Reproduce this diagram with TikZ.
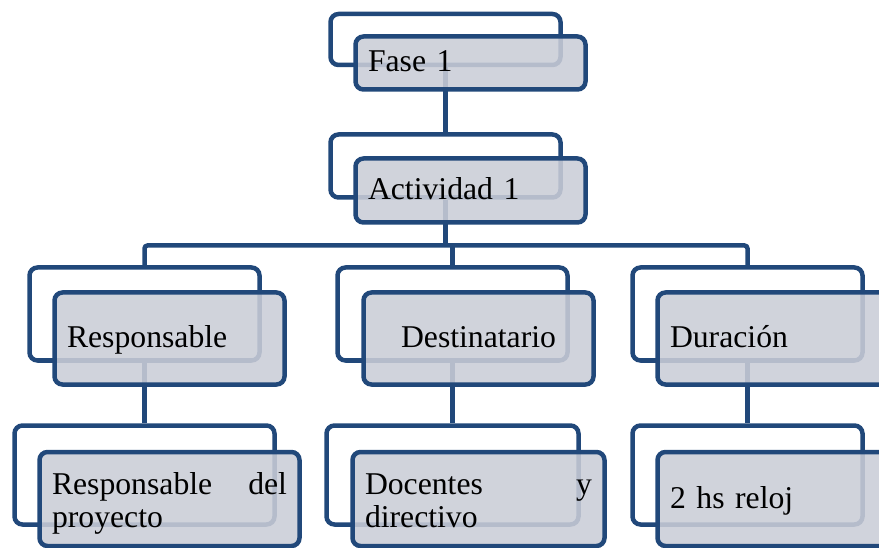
\documentclass[tikz,border=0pt]{standalone}
\usepackage{fontspec}
\setmainfont{Liberation Serif}
\definecolor{lineblue}{RGB}{33,72,122}
\definecolor{boxgray}{RGB}{202,205,215}

\begin{document}
\begin{tikzpicture}[x=1pt, y=-1pt,
    back/.style 2 args={rectangle, draw=lineblue, line width=4.5pt, rounded corners=8pt, fill=white, minimum width=#1, minimum height=#2, inner sep=0pt},
    front/.style 2 args={rectangle, draw=lineblue, line width=4.5pt, rounded corners=8pt, fill=boxgray, fill opacity=0.88, text opacity=1, minimum width=#1, minimum height=#2, inner xsep=12.5pt, inner ysep=0pt, text width=#1-25, align=left, text height=25pt, text depth=7pt, node font=\fontsize{31.7}{32.5}\selectfont},
    twolines/.style={text depth=34pt},
    link/.style={draw=lineblue, line width=4.5pt}]
    \useasboundingbox (0,0) rectangle (879,548);

    % back boxes
    \node(faseB) [back={230}{51}] at (445.5,39.5) {};
    \node(actB) [back={230}{63}] at (445.5,166) {};
    \node(respB) [back={230}{93}] at (144.5,314) {};
    \node(destB) [back={230}{93}] at (452.5,314) {};
    \node(durB) [back={230}{93}] at (747.5,314) {};
    \node(respdB) [back={260}{99}] at (144.5,475) {};
    \node(docB) [back={252}{99}] at (452.5,475) {};
    \node(horasB) [back={230}{99}] at (747.5,475) {};

    % connectors
    \coordinate (bar) at (445.5,245.5);
    \draw[link] (faseB.south) -- (actB.north);
    \draw[link] (actB.south) -- (bar);
    \draw[link, rounded corners=3pt] (respB.north) |- (bar) -| (durB.north);
    \draw[link] (bar -| destB.north) -- (destB.north);
    \draw[link] (respB.south) -- (respdB.north);
    \draw[link] (destB.south) -- (docB.north);
    \draw[link] (durB.south) -- (horasB.north);

    % front boxes
    \node(faseF) [front={230}{53}] at (470.5,63) {Fase 1};
    \node(actF) [front={230}{64}] at (470.5,190.5) {Actividad 1};
    \node(respF) [front={230}{92}] at (169.5,338.5) {Responsable};
    \node(destF) [front={230}{92}, align=center] at (478.5,338.5) {Destinatario};
    \node(durF) [front={230}{92}] at (772.5,338.5) {Duración};
    \node(respdF) [front={260}{94}, twolines] at (169.5,499) {\makebox[235pt][l]{Responsable\hfill del}\\proyecto};
    \node(docF) [front={252}{94}, twolines] at (478.5,499) {\makebox[227pt][l]{Docentes\hfill y}\\directivo};
    \node(horasF) [front={230}{94}] at (772.5,499) {2 hs reloj};
\end{tikzpicture}
\end{document}
